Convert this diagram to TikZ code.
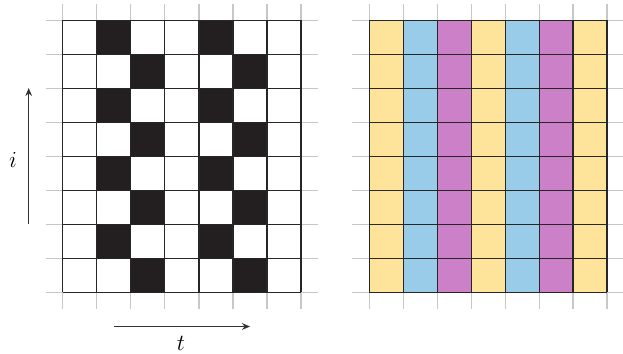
\documentclass[tikz,border=0pt]{standalone}
\usetikzlibrary{arrows.meta}
\definecolor{cyel}{HTML}{FDE49A}
\definecolor{cblu}{HTML}{99CCE8}
\definecolor{cmag}{HTML}{CC80C8}
\definecolor{cblk}{HTML}{231F20}
\tikzset{
  guide/.style={draw=black!22, line width=0.9pt},
  cellline/.style={draw=black!85, line width=0.9pt},
  axisarrow/.style={draw=black!80, line width=0.8pt, -{Stealth[length=6pt,width=5pt]}},
  lbl/.style={font=\fontsize{19}{22}\selectfont}
}
\begin{document}
\begin{tikzpicture}[x=0.75pt,y=-0.75pt]
\useasboundingbox (0,0) rectangle (623,353);
% ---------- left grid ----------
\def\lx{62.7}\def\cw{34.05}\def\ty{20.3}\def\ch{34}
% guide lines
\foreach \k in {0,...,8} {
  \draw[guide] (46,{\ty+\k*\ch}) -- (318,{\ty+\k*\ch});
}
\foreach \k in {0,...,7} {
  \draw[guide] ({\lx+\k*\cw},4) -- ({\lx+\k*\cw},309);
}
% black cells
\foreach \r in {0,...,7} {
  \pgfmathtruncatemacro{\odd}{mod(\r,2)}
  \foreach \c in {1,4} {
    \pgfmathsetmacro{\cc}{\c+\odd}
    \fill[cblk] ({\lx+\cc*\cw},{\ty+\r*\ch}) rectangle ++(\cw,\ch);
  }
}
% cell lines
\foreach \k in {0,...,8} {
  \draw[cellline] (\lx,{\ty+\k*\ch}) -- ({\lx+7*\cw},{\ty+\k*\ch});
}
\foreach \k in {0,...,7} {
  \draw[cellline] ({\lx+\k*\cw},\ty) -- ({\lx+\k*\cw},{\ty+8*\ch});
}
% ---------- right grid ----------
\def\rx{369.3}\def\rw{33.96}
\foreach \k in {0,...,8} {
  \draw[guide] (352,{\ty+\k*\ch}) -- (623,{\ty+\k*\ch});
}
\foreach \k in {0,...,7} {
  \draw[guide] ({\rx+\k*\rw},4) -- ({\rx+\k*\rw},309);
}
\foreach \c/\col in {0/cyel,1/cblu,2/cmag,3/cyel,4/cblu,5/cmag,6/cyel} {
  \fill[\col] ({\rx+\c*\rw},\ty) rectangle ++(\rw,{8*\ch});
}
\foreach \k in {0,...,8} {
  \draw[cellline] (\rx,{\ty+\k*\ch}) -- ({\rx+7*\rw},{\ty+\k*\ch});
}
\foreach \k in {0,...,7} {
  \draw[cellline] ({\rx+\k*\rw},\ty) -- ({\rx+\k*\rw},{\ty+8*\ch});
}
% ---------- axes ----------
\coordinate (ibot) at (28.7,224);
\coordinate (itop) at (28.7,88);
\coordinate (tl) at (114,326.5);
\coordinate (tr) at (250,326.5);
\draw[axisarrow] (ibot) -- (itop);
\draw[axisarrow] (tl) -- (tr);
\node[lbl] (ilabel) at (13,160) {$i$};
\node[lbl] (tlabel) at (181,343) {$t$};
\end{tikzpicture}
\end{document}
